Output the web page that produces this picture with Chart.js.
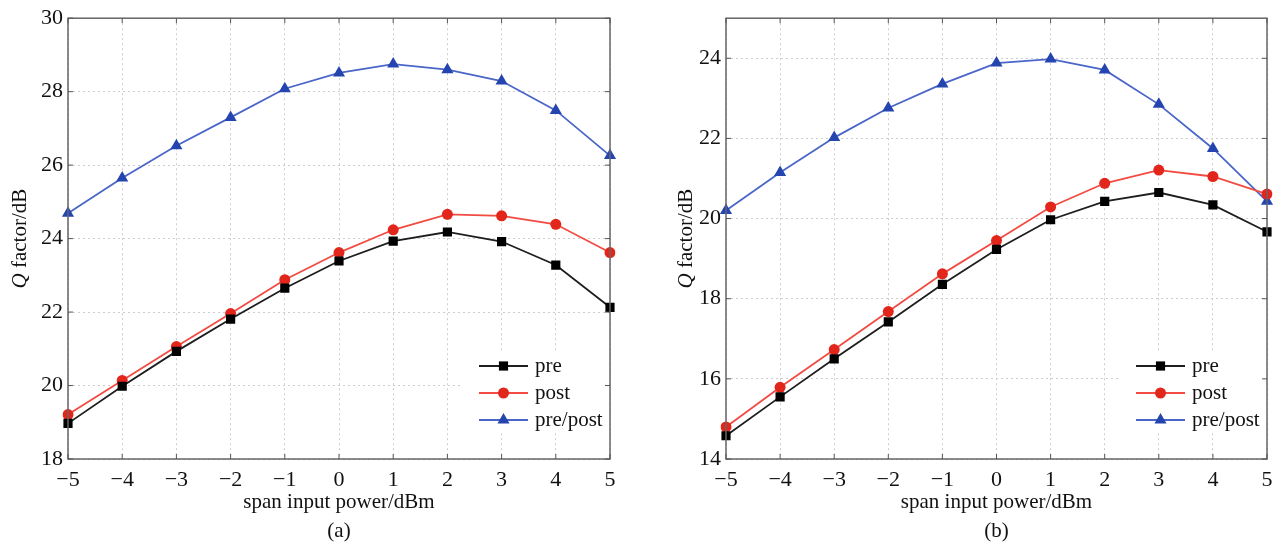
<!DOCTYPE html>
<html><head><meta charset="utf-8">
<script src="https://cdn.jsdelivr.net/npm/chart.js@4.4.0/dist/chart.umd.min.js"></script>
<style>
html,body{margin:0;padding:0;background:#fff;}
#wrap{position:relative;width:1282px;height:551px;overflow:hidden;}
.box{position:absolute;top:0;height:551px;}
</style></head><body>
<div id="wrap">
<div class="box" style="left:0;width:640px"><canvas id="ca"></canvas></div>
<div class="box" style="left:640px;width:642px"><canvas id="cb"></canvas></div>
</div>
<script>
const xLabels = ['\u22125','\u22124','\u22123','\u22122','\u22121','0','1','2','3','4','5'];
const seriesNames = ['pre','post','pre/post'];
const aPre     = [18.97,19.98,20.93,21.81,22.65,23.39,23.93,24.18,23.92,23.28,22.13];
const aPost    = [19.21,20.14,21.06,21.96,22.88,23.62,24.24,24.66,24.62,24.39,23.62];
const aPrePost = [24.69,25.65,26.53,27.30,28.08,28.51,28.75,28.60,28.29,27.49,26.26];
const bPre     = [14.58,15.55,16.50,17.42,18.36,19.23,19.97,20.43,20.65,20.34,19.67];
const bPost    = [14.80,15.79,16.73,17.68,18.62,19.45,20.29,20.88,21.21,21.05,20.61];
const bPrePost = [20.20,21.15,22.02,22.76,23.36,23.88,23.98,23.71,22.85,21.75,20.43];
const aYTicks = [18,20,22,24,26,28,30];
const bYTicks = [14,16,18,20,22,24];
const xTitle = 'span input power/dBm';
const yTitleItalic = 'Q';
const yTitleRest = ' factor/dB';
const panelLabels = ['(a)','(b)'];

const FONT = "'Liberation Serif','Times New Roman',serif";
const styles = [
  {line:'#1e1e1e', fill:'#000000', pstyle:'rect', r:6.5},
  {line:'#f24b42', fill:'#e2261b', pstyle:'circle', r:5.5},
  {line:'#4a66c8', fill:'#2445b0', pstyle:'triangle', r:7}
];

function drawMarker(ctx, s, x, y){
  const r = s.r;
  ctx.beginPath();
  if (s.pstyle === 'rect') {
    const h = Math.SQRT1_2 * r;
    ctx.rect(x - h, y - h, 2 * h, 2 * h);
  } else if (s.pstyle === 'circle') {
    ctx.arc(x, y, r, 0, Math.PI * 2);
  } else {
    ctx.moveTo(x, y - r);
    ctx.lineTo(x + Math.cos(Math.PI/6) * r, y + r / 2);
    ctx.lineTo(x - Math.cos(Math.PI/6) * r, y + r / 2);
    ctx.closePath();
  }
  ctx.fill();
}

function framePlugin(opt){
  return {
    id:'frame'+opt.label,
    afterDatasetsDraw(chart){
      const ctx = chart.ctx, a = chart.chartArea;
      const xs = chart.scales.x, ys = chart.scales.y;
      ctx.save();
      // legend
      const lx = a.right - 131, rows = [366, 393, 420];
      ctx.fillStyle = '#ffffff';
      ctx.fillRect(lx - 16, rows[0] - 13, a.right - 1 - (lx - 16), rows[2] + 10 - (rows[0] - 13));
      ctx.font = '21px ' + FONT;
      ctx.textBaseline = 'alphabetic';
      ctx.textAlign = 'left';
      seriesNames.forEach((n, i) => {
        const s = styles[i], y = rows[i];
        ctx.strokeStyle = s.line; ctx.lineWidth = 1.8;
        ctx.beginPath(); ctx.moveTo(lx, y); ctx.lineTo(lx + 49, y); ctx.stroke();
        ctx.fillStyle = s.fill;
        drawMarker(ctx, s, lx + 24.5, y);
        ctx.fillStyle = '#111';
        ctx.fillText(n, lx + 56, y + 6);
      });
      // border
      ctx.strokeStyle = '#666'; ctx.lineWidth = 1.5;
      ctx.strokeRect(a.left, a.top, a.right - a.left, a.bottom - a.top);
      // inward ticks
      ctx.lineWidth = 1;
      ctx.strokeStyle = '#555';
      ctx.beginPath();
      xLabels.forEach((l, i) => {
        const px = xs.getPixelForValue(i);
        ctx.moveTo(px, a.bottom); ctx.lineTo(px, a.bottom - 5);
        ctx.moveTo(px, a.top); ctx.lineTo(px, a.top + 5);
      });
      opt.yTicks.forEach(v => {
        const py = ys.getPixelForValue(v);
        ctx.moveTo(a.left, py); ctx.lineTo(a.left + 5, py);
        ctx.moveTo(a.right, py); ctx.lineTo(a.right - 5, py);
      });
      ctx.stroke();
      // titles
      ctx.fillStyle = '#111';
      ctx.font = '21px ' + FONT;
      ctx.textAlign = 'center';
      const cx = (a.left + a.right) / 2;
      ctx.fillText(xTitle, cx, 508);
      ctx.fillText(opt.label, cx, 537);
      // y title with italic Q
      ctx.save();
      const cy = (a.top + a.bottom) / 2;
      ctx.translate(opt.yTitleX, cy);
      ctx.rotate(-Math.PI / 2);
      ctx.textAlign = 'left';
      ctx.font = 'italic 21px ' + FONT;
      const wq = ctx.measureText(yTitleItalic).width;
      ctx.font = '21px ' + FONT;
      const wr = ctx.measureText(yTitleRest).width;
      const start = -(wq + wr) / 2;
      ctx.font = 'italic 21px ' + FONT;
      ctx.fillText(yTitleItalic, start, 0);
      ctx.font = '21px ' + FONT;
      ctx.fillText(yTitleRest, start + wq, 0);
      ctx.restore();
      ctx.restore();
    }
  };
}

function makeChart(id, series, opt){
  const datasets = series.map((d, i) => ({
    label: seriesNames[i],
    data: d,
    borderColor: styles[i].line,
    borderWidth: 1.8,
    backgroundColor: styles[i].fill,
    pointBackgroundColor: styles[i].fill,
    pointBorderColor: styles[i].fill,
    pointBorderWidth: 0,
    pointStyle: styles[i].pstyle,
    pointRadius: styles[i].r,
    tension: 0,
    fill: false
  }));
  return new Chart(document.getElementById(id), {
    type: 'line',
    data: { labels: xLabels, datasets },
    plugins: [framePlugin(opt)],
    options: {
      responsive: true,
      maintainAspectRatio: false,
      animation: false,
      events: [],
      layout: { padding: { left: 0, top: 16, right: opt.padRight, bottom: 0 } },
      plugins: { legend: { display: false }, tooltip: { enabled: false } },
      scales: {
        x: {
          type: 'category',
          offset: false,
          grid: { color: '#cdcdcd', lineWidth: 1, drawTicks: false },
          border: { display: false, dash: [2, 3] },
          ticks: { color: '#111', font: { family: FONT, size: 22 }, padding: 8, maxRotation: 0, autoSkip: false },
          afterFit: s => { s.height = 92; }
        },
        y: {
          type: 'linear',
          min: opt.yMin, max: opt.yMax,
          grid: { color: '#cdcdcd', lineWidth: 1, drawTicks: false },
          border: { display: false, dash: [2, 3] },
          ticks: { color: '#111', font: { family: FONT, size: 22 }, padding: 5, includeBounds: false },
          afterBuildTicks: s => { s.ticks = opt.yTicks.map(v => ({ value: v })); },
          afterFit: s => { s.width = opt.yWidth; }
        }
      }
    }
  });
}

makeChart('ca', [aPre, aPost, aPrePost], { yMin: 18, yMax: 30, yTicks: aYTicks, yWidth: 68, padRight: 30, yTitleX: 26, label: panelLabels[0] });
makeChart('cb', [bPre, bPost, bPrePost], { yMin: 14, yMax: 25, yTicks: bYTicks, yWidth: 86, padRight: 15, yTitleX: 52, label: panelLabels[1] });
</script>
</body></html>
